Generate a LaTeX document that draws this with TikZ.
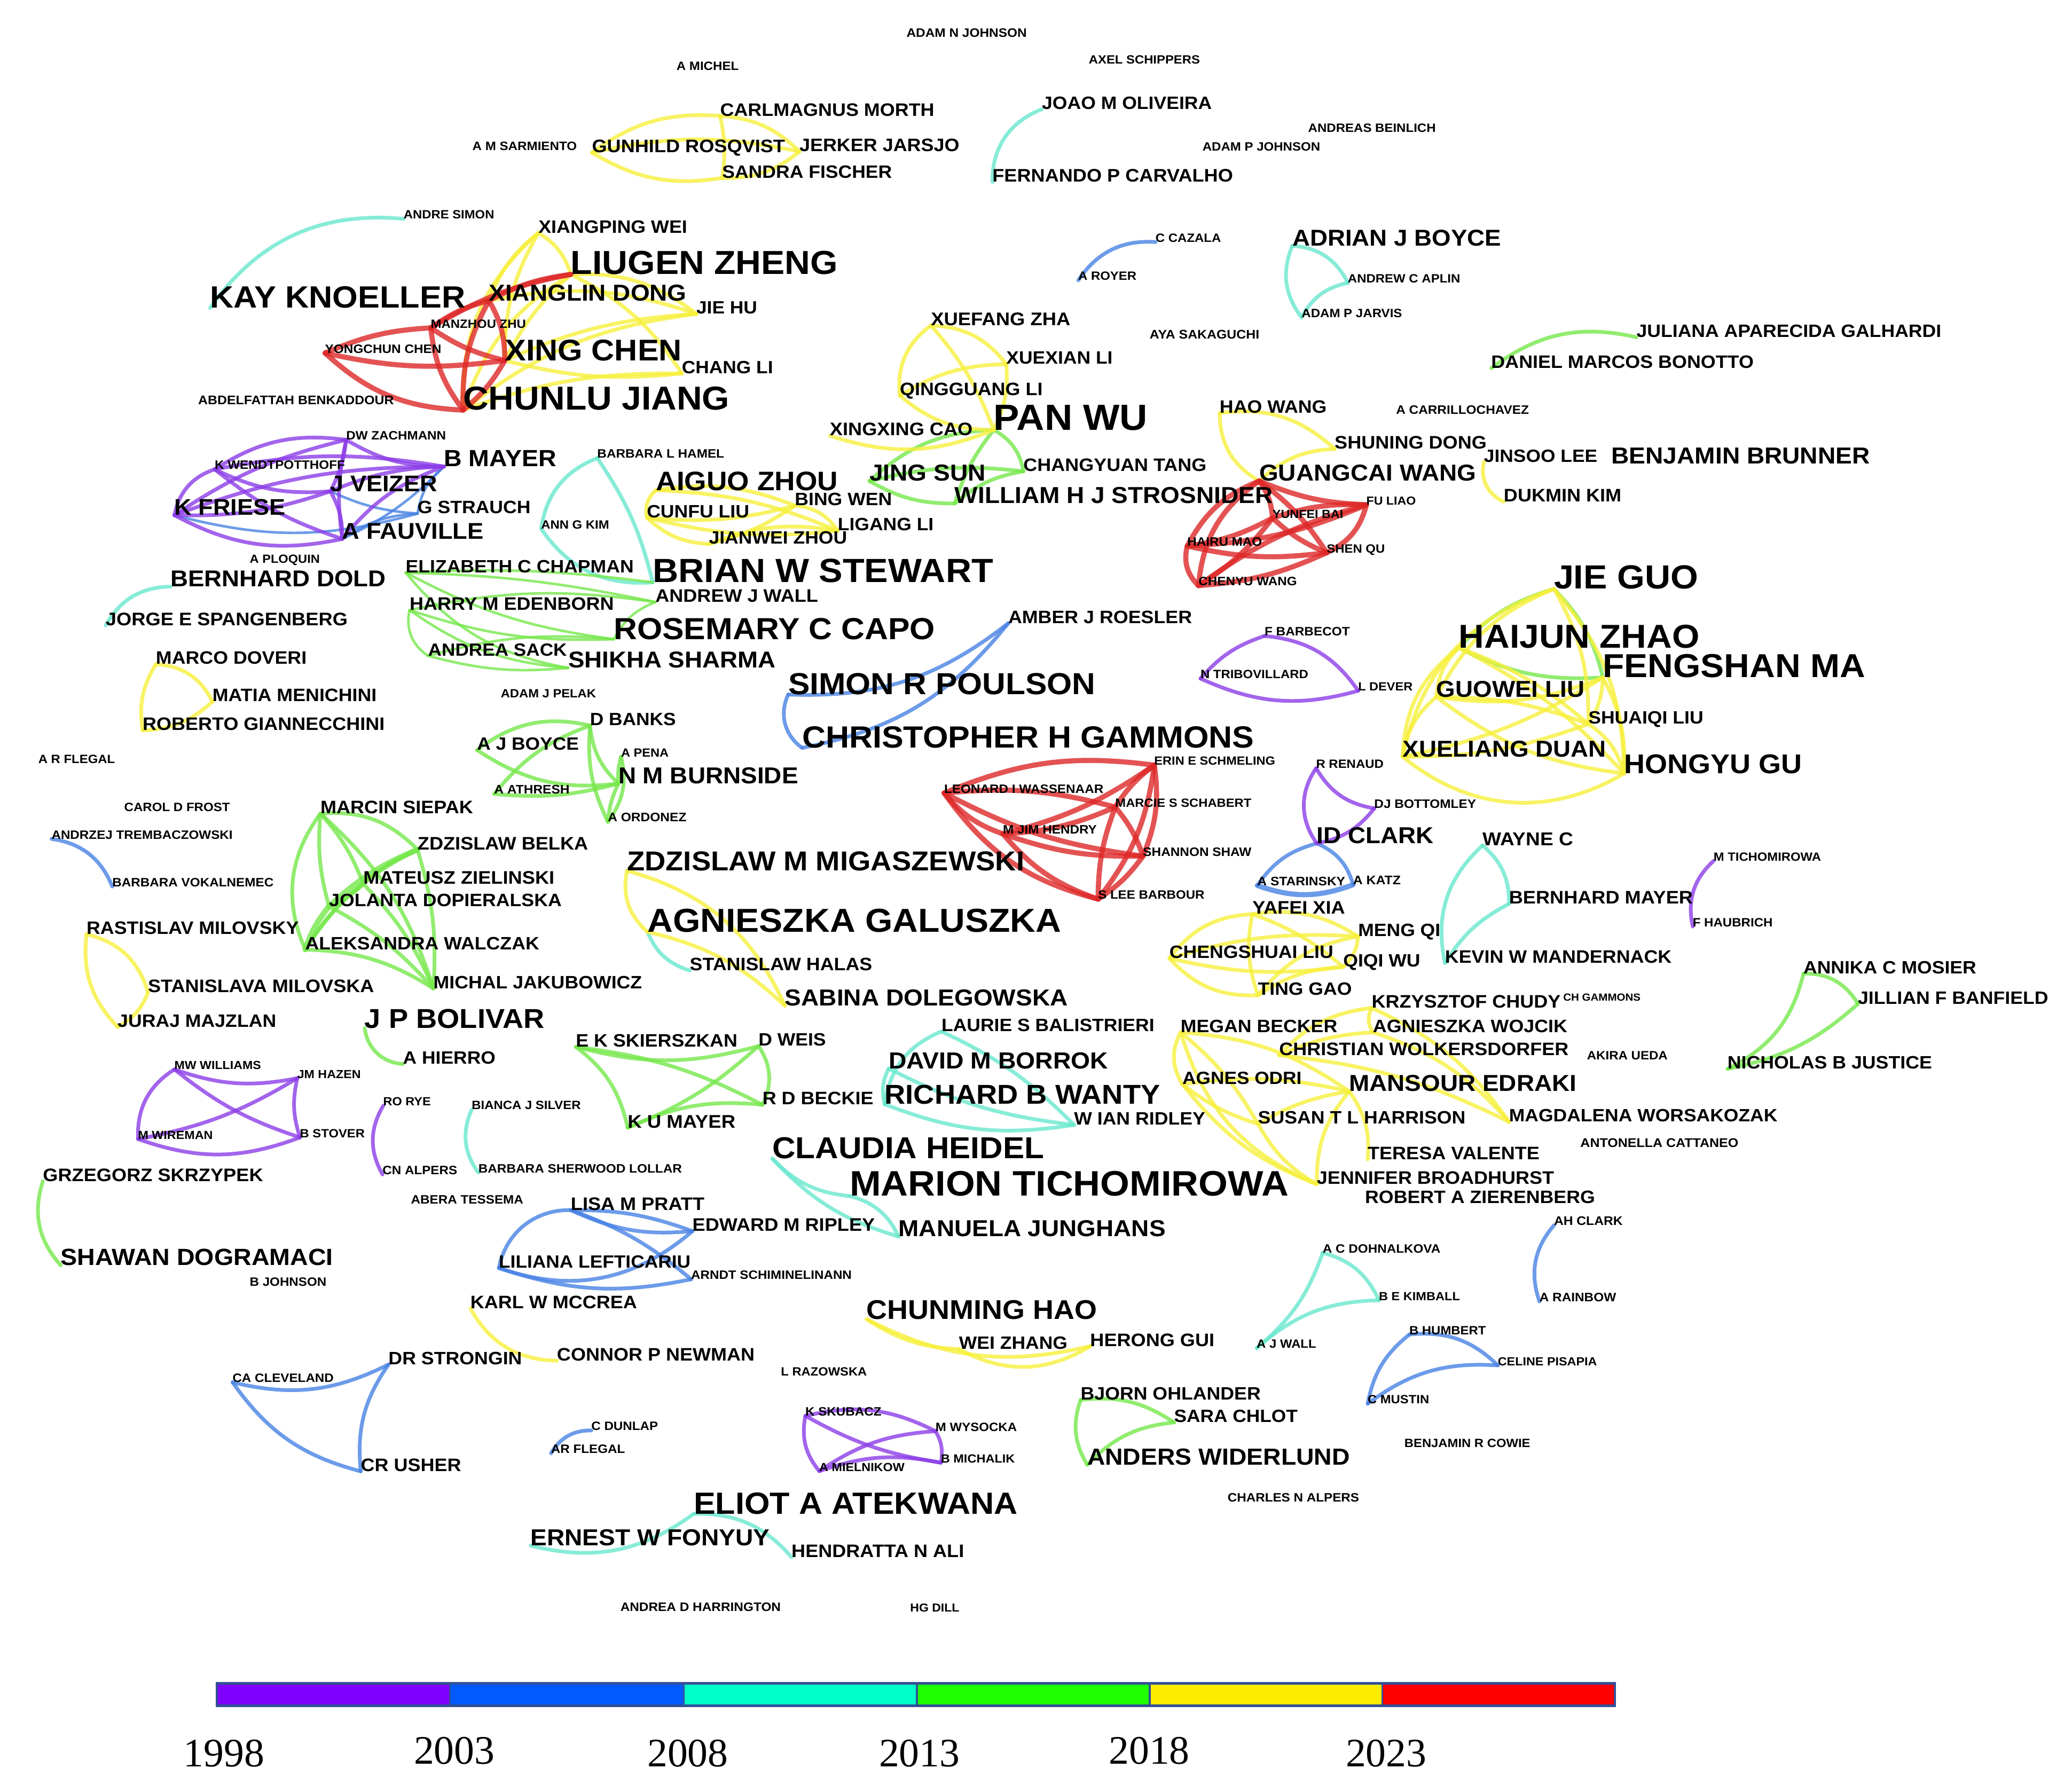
\documentclass[tikz,border=0pt]{standalone}
\usepackage{fontspec}
\setmainfont{Liberation Sans}
\newfontfamily\yearfont{Liberation Serif}
\usepackage{graphicx}
\pgfdeclarelayer{bg}
\pgfsetlayers{bg,main}
\definecolor{cP}{RGB}{140,62,232}
\definecolor{cB}{RGB}{72,130,228}
\definecolor{cT}{RGB}{105,232,205}
\definecolor{cG}{RGB}{118,232,75}
\definecolor{cY}{RGB}{247,240,60}
\definecolor{cR}{RGB}{222,40,40}
\definecolor{bP}{RGB}{127,0,255}
\definecolor{bB}{RGB}{0,90,255}
\definecolor{bT}{RGB}{0,255,200}
\definecolor{bG}{RGB}{30,255,0}
\definecolor{bY}{RGB}{255,235,0}
\definecolor{bR}{RGB}{255,0,0}
\definecolor{bE}{RGB}{50,80,150}
\newlength\labw
\newcommand\au[5]{%
  \pgfmathsetlength{\labw}{(#4-(#2))*0.2845276pt}%
  \node[aul] (#1) at (#2,#3) {\resizebox{\labw}{!}{\scalebox{1}[0.94]{#5}}};}
\newcommand\ed[4][cY]{\draw[lnk,#1] (#2.base west) to[bend left=#4] (#3.base west);}
\begin{document}
\begin{tikzpicture}[x=0.01cm,y=-0.01cm,
  aul/.style={anchor=west,inner sep=0pt,outer sep=0pt,font=\bfseries},
  lnk/.style={line width=0.8pt,draw opacity=0.8,line cap=round},
  rd/.style={draw=cR,line width=1.1pt},
  thn/.style={line width=0.55pt},
  yr/.style={inner sep=0pt,font=\yearfont\fontsize{8.7}{10}\selectfont}]
\begin{pgfonlayer}{bg}
\fill[white] (0,0) rectangle (1568,1356);
\end{pgfonlayer}
\useasboundingbox (0,0) rectangle (1568,1356);
% ---------------- labels: top ----------------
\au{adamn}{686}{25}{777}{ADAM N JOHNSON}
\au{amichel}{512}{50}{559}{A MICHEL}
\au{axel}{824}{45}{908}{AXEL SCHIPPERS}
\au{carl}{545}{83}{707}{CARLMAGNUS MORTH}
\au{joao}{788.5}{78}{917}{JOAO M OLIVEIRA}
\au{beinlich}{990}{97}{1086.5}{ANDREAS BEINLICH}
\au{sarm}{357.5}{110.6}{436.5}{A M SARMIENTO}
\au{gunhild}{448}{112}{594}{GUNHILD ROSQVIST}
\au{jerker}{605}{110}{726}{JERKER JARSJO}
\au{sandra}{546.5}{130}{675}{SANDRA FISCHER}
\au{adamp}{910}{111}{999}{ADAM P JOHNSON}
\au{fernando}{751}{133}{933}{FERNANDO P CARVALHO}
\au{andre}{305.5}{162.5}{374}{ANDRE SIMON}
\au{cazala}{874.5}{180}{924}{C CAZALA}
\au{royer}{816}{209}{860}{A ROYER}
\au{adrian}{978}{180}{1136}{ADRIAN J BOYCE}
\au{aplin}{1020}{211}{1105}{ANDREW C APLIN}
\au{jarvis}{985}{237}{1061}{ADAM P JARVIS}
\au{aya}{870}{253}{953}{AYA SAKAGUCHI}
\au{xiangping}{407.5}{171.5}{520}{XIANGPING WEI}
\au{liugen}{432}{199}{634}{LIUGEN ZHENG}
\au{kay}{159}{225}{352}{KAY KNOELLER}
\au{xianglin}{370}{221.5}{519.5}{XIANGLIN DONG}
\au{jiehu}{527}{233}{573}{JIE HU}
\au{manzhou}{326}{245}{398}{MANZHOU ZHU}
\au{yongchun}{246}{264}{334}{YONGCHUN CHEN}
\au{xingchen}{382}{265}{516}{XING CHEN}
\au{changli}{516}{278}{585}{CHANG LI}
\au{chunlu}{350.5}{301.7}{552}{CHUNLU JIANG}
\au{abdel}{150}{303}{298}{ABDELFATTAH BENKADDOUR}
\au{zachmann}{262}{329.7}{337.5}{DW ZACHMANN}
\au{bmayer}{336}{347}{421}{B MAYER}
\au{wendt}{162.5}{352}{261}{K WENDTPOTTHOFF}
\au{veizer}{250}{366}{331}{J VEIZER}
\au{friese}{132}{384}{216}{K FRIESE}
\au{strauch}{316}{384}{401.5}{G STRAUCH}
\au{fauville}{259}{402}{366}{A FAUVILLE}
\au{ploquin}{189}{424}{242}{A PLOQUIN}
\au{bdold}{129}{438}{292}{BERNHARD DOLD}
\au{eliz}{307}{428.7}{479.5}{ELIZABETH C CHAPMAN}
\au{hamel}{452}{343.5}{548}{BARBARA L HAMEL}
\au{annkim}{409.5}{397}{461}{ANN G KIM}
\au{aiguo}{496.5}{364}{634}{AIGUO ZHOU}
\au{bingwen}{601.5}{378}{675}{BING WEN}
\au{cunfu}{489.5}{387}{567}{CUNFU LIU}
\au{ligang}{634}{397}{706.5}{LIGANG LI}
\au{jianwei}{536.5}{407}{641}{JIANWEI ZHOU}
\au{brian}{494}{432}{751.5}{BRIAN W STEWART}
\au{xuefang}{704.5}{241.6}{810}{XUEFANG ZHA}
\au{xuexian}{761.5}{271}{842}{XUEXIAN LI}
\au{qingguang}{681}{296}{789}{QINGGUANG LI}
\au{xingxing}{628}{325}{736}{XINGXING CAO}
\au{panwu}{752}{316}{868.5}{PAN WU}
\au{jingsun}{658}{358}{746}{JING SUN}
\au{changyuan}{774.5}{352}{913}{CHANGYUAN TANG}
\au{william}{722.5}{375}{963}{WILLIAM H J STROSNIDER}
\au{haowang}{923}{308}{1004}{HAO WANG}
\au{carrillo}{1056.5}{310}{1157}{A CARRILLOCHAVEZ}
\au{shuning}{1010}{335}{1125}{SHUNING DONG}
\au{guangcai}{953}{358}{1117}{GUANGCAI WANG}
\au{jinsoo}{1123}{345}{1208.8}{JINSOO LEE}
\au{brunner}{1219.5}{345}{1415}{BENJAMIN BRUNNER}
\au{dukmin}{1138}{375}{1227}{DUKMIN KIM}
\au{fuliao}{1034}{379}{1071.5}{FU LIAO}
\au{yunfei}{963}{389}{1016.5}{YUNFEI BAI}
\au{hairu}{898.5}{410}{955}{HAIRU MAO}
\au{shenqu}{1004}{416}{1048}{SHEN QU}
\au{chenyu}{907}{440}{981.5}{CHENYU WANG}
\au{juliana}{1238.5}{250.6}{1469}{JULIANA APARECIDA GALHARDI}
\au{daniel}{1128.5}{274}{1327}{DANIEL MARCOS BONOTTO}
\au{jieguo}{1176}{437}{1285}{JIE GUO}
% ---------------- labels: middle ----------------
\au{andrew}{496}{451}{619}{ANDREW J WALL}
\au{harry}{310}{457}{464.5}{HARRY M EDENBORN}
\au{rosemary}{464.5}{475.8}{707.5}{ROSEMARY C CAPO}
\au{andrea}{324}{491.7}{429}{ANDREA SACK}
\au{shikha}{430}{499.5}{587}{SHIKHA SHARMA}
\au{pelak}{379}{524.9}{451}{ADAM J PELAK}
\au{dbanks}{446.5}{544.5}{511.5}{D BANKS}
\au{ajboyce}{361}{563}{438}{A J BOYCE}
\au{apena}{470}{569.6}{506}{A PENA}
\au{burnside}{468}{587}{604}{N M BURNSIDE}
\au{athresh}{374}{597.6}{431}{A ATHRESH}
\au{ordonez}{460}{618.7}{519.5}{A ORDONEZ}
\au{simon}{596.5}{517.7}{829}{SIMON R POULSON}
\au{chris}{607}{558}{949}{CHRISTOPHER H GAMMONS}
\au{amber}{763}{467}{902}{AMBER J ROESLER}
\au{zdz}{474.5}{651.9}{775}{ZDZISLAW M MIGASZEWSKI}
\au{agn}{490}{696.6}{803}{AGNIESZKA GALUSZKA}
\au{halas}{522}{729.8}{660}{STANISLAW HALAS}
\au{sabina}{594}{755.2}{808}{SABINA DOLEGOWSKA}
\au{laurie}{712.5}{776}{873.5}{LAURIE S BALISTRIERI}
\au{ek}{435.8}{787.6}{558}{E K SKIERSZKAN}
\au{dweis}{574}{787}{625}{D WEIS}
\au{david}{672.5}{802.6}{838.5}{DAVID M BORROK}
\au{beckie}{577}{831.4}{661}{R D BECKIE}
\au{richard}{669.5}{828.6}{877.8}{RICHARD B WANTY}
\au{kumayer}{475}{848.8}{556.5}{K U MAYER}
\au{ridley}{812.8}{846.7}{912}{W IAN RIDLEY}
\au{claudia}{584.5}{869}{790}{CLAUDIA HEIDEL}
\au{marion}{643}{896}{975}{MARION TICHOMIROWA}
\au{jorge}{80}{468.6}{263}{JORGE E SPANGENBERG}
\au{marco}{118}{498}{232}{MARCO DOVERI}
\au{matia}{160.8}{526.3}{285}{MATIA MENICHINI}
\au{roberto}{108}{548}{291}{ROBERTO GIANNECCHINI}
\au{arflegala}{29}{574.5}{87}{A R FLEGAL}
\au{frost}{94}{611}{174}{CAROL D FROST}
\au{andrzej}{39}{631.7}{176}{ANDRZEJ TREMBACZOWSKI}
\au{vokal}{85}{667.8}{207}{BARBARA VOKALNEMEC}
\au{marcin}{242.5}{611}{358}{MARCIN SIEPAK}
\au{belka}{316}{638.3}{445}{ZDZISLAW BELKA}
\au{mateusz}{275}{664.3}{419.5}{MATEUSZ ZIELINSKI}
\au{jolanta}{249}{681.3}{425}{JOLANTA DOPIERALSKA}
\au{ras}{65.5}{702.4}{226}{RASTISLAV MILOVSKY}
\au{aleks}{231}{714}{408}{ALEKSANDRA WALCZAK}
\au{stan}{112}{746.3}{283}{STANISLAVA MILOVSKA}
\au{michal}{328}{743.4}{485.8}{MICHAL JAKUBOWICZ}
\au{juraj}{89}{772.6}{209}{JURAJ MAJZLAN}
\au{bolivar}{276}{771}{412}{J P BOLIVAR}
\au{hierro}{305}{800.6}{375}{A HIERRO}
\au{mww}{132}{806.3}{197.5}{MW WILLIAMS}
\au{hazen}{225}{813}{273}{JM HAZEN}
\au{rorye}{290}{833.8}{326}{RO RYE}
\au{bianca}{357}{836.6}{439.5}{BIANCA J SILVER}
\au{wireman}{104.5}{859}{161}{M WIREMAN}
\au{stover}{227}{857.7}{276}{B STOVER}
\au{cnalpers}{289.5}{885.7}{346}{CN ALPERS}
\au{sherwood}{362}{884.3}{516}{BARBARA SHERWOOD LOLLAR}
\au{grzegorz}{32.5}{889.2}{199}{GRZEGORZ SKRZYPEK}
\au{barbecot}{957}{478.1}{1021.5}{F BARBECOT}
\au{tribo}{908.5}{510.4}{990}{N TRIBOVILLARD}
\au{dever}{1027.8}{519.7}{1069}{L DEVER}
\au{erin}{873.5}{576}{965}{ERIN E SCHMELING}
\au{leonard}{714.5}{597}{835}{LEONARD I WASSENAAR}
\au{marcie}{844}{607.7}{947}{MARCIE S SCHABERT}
\au{hendry}{759}{628}{830}{M JIM HENDRY}
\au{shannon}{865}{644.7}{947}{SHANNON SHAW}
\au{barbour}{831}{677.3}{911.5}{S LEE BARBOUR}
\au{renaud}{996}{578.3}{1047}{R RENAUD}
\au{bottomley}{1040}{608.6}{1117}{DJ BOTTOMLEY}
\au{idclark}{996.5}{632.3}{1085}{ID CLARK}
\au{starinsky}{951.5}{666.9}{1018}{A STARINSKY}
\au{katz}{1024}{666.3}{1060}{A KATZ}
\au{yafei}{947.8}{687.1}{1017.8}{YAFEI XIA}
\au{mengqi}{1027.8}{705.3}{1090}{MENG QI}
\au{chengshuai}{885}{720.6}{1009}{CHENGSHUAI LIU}
\au{qiqi}{1016.5}{728.4}{1074.8}{QIQI WU}
\au{tinggao}{952}{748.6}{1023}{TING GAO}
\au{wayne}{1122}{635}{1190.5}{WAYNE C}
\au{bmayerb}{1142}{679.3}{1281}{BERNHARD MAYER}
\au{kevin}{1093.5}{724.1}{1265}{KEVIN W MANDERNACK}
\au{chudy}{1038}{758.1}{1181}{KRZYSZTOF CHUDY}
\au{wojcik}{1039}{776.6}{1186}{AGNIESZKA WOJCIK}
\au{christian}{968}{793.9}{1187}{CHRISTIAN WOLKERSDORFER}
\au{megan}{893.5}{776.6}{1012}{MEGAN BECKER}
\au{agnes}{894.8}{815.9}{985}{AGNES ODRI}
\au{mansour}{1021}{819.9}{1193}{MANSOUR EDRAKI}
\au{susan}{952}{845.9}{1109}{SUSAN T L HARRISON}
\au{magda}{1142}{844.4}{1345}{MAGDALENA WORSAKOZAK}
\au{teresa}{1035}{872.7}{1165}{TERESA VALENTE}
\au{jennifer}{996.5}{891.5}{1176}{JENNIFER BROADHURST}
\au{robert}{1033}{906}{1207}{ROBERT A ZIERENBERG}
\au{hgammons}{1183}{755}{1241.5}{CH GAMMONS}
\au{ueda}{1201}{799}{1262}{AKIRA UEDA}
\au{cattaneo}{1196}{865}{1315.5}{ANTONELLA CATTANEO}
\au{mtich}{1296.8}{648.4}{1378}{M TICHOMIROWA}
\au{haubrich}{1281}{698.1}{1341.5}{F HAUBRICH}
\au{annika}{1364.8}{732.1}{1495.5}{ANNIKA C MOSIER}
\au{jillian}{1406}{755.2}{1550}{JILLIAN F BANFIELD}
\au{nicholas}{1307.3}{804.3}{1462}{NICHOLAS B JUSTICE}
\au{haijun}{1104}{481.6}{1286}{HAIJUN ZHAO}
\au{fengshan}{1213}{504.1}{1411.5}{FENGSHAN MA}
\au{guowei}{1087}{521.4}{1199}{GUOWEI LIU}
\au{shuaiqi}{1202}{544.5}{1289}{SHUAIQI LIU}
\au{xueliang}{1061.5}{566.7}{1215.5}{XUELIANG DUAN}
\au{hongyu}{1229}{578.3}{1363.5}{HONGYU GU}
% ---------------- labels: bottom ----------------
\au{abera}{311}{908}{396}{ABERA TESSEMA}
\au{shawan}{46}{951.5}{252}{SHAWAN DOGRAMACI}
\au{bjohnson}{189}{970.3}{247}{B JOHNSON}
\au{cleveland}{176}{1043}{252.5}{CA CLEVELAND}
\au{strongin}{294}{1028}{395}{DR STRONGIN}
\au{usher}{273}{1108.8}{349}{CR USHER}
\au{lisa}{432}{911.1}{533}{LISA M PRATT}
\au{edward}{524}{927}{662}{EDWARD M RIPLEY}
\au{liliana}{377.5}{955}{522.5}{LILIANA LEFTICARIU}
\au{arndt}{523}{965}{644.5}{ARNDT SCHIMINELINANN}
\au{karl}{356}{985.5}{482}{KARL W MCCREA}
\au{connor}{421.5}{1025.1}{571}{CONNOR P NEWMAN}
\au{razowska}{591}{1038}{656}{L RAZOWSKA}
\au{dunlap}{447.5}{1079.4}{498}{C DUNLAP}
\au{arflegal}{417}{1096.7}{473}{AR FLEGAL}
\au{skubacz}{609.5}{1068.4}{667}{K SKUBACZ}
\au{wysocka}{708}{1080}{769.5}{M WYSOCKA}
\au{michalik}{712}{1103.9}{768}{B MICHALIK}
\au{mielnikow}{620}{1110.3}{684.5}{A MIELNIKOW}
\au{eliot}{525}{1137.7}{770}{ELIOT A ATEKWANA}
\au{ernest}{401.5}{1163.7}{582.5}{ERNEST W FONYUY}
\au{hendratta}{599}{1173.8}{729.5}{HENDRATTA N ALI}
\au{harrington}{469.5}{1216.2}{590.8}{ANDREA D HARRINGTON}
\au{hgdill}{688.8}{1217}{726}{HG DILL}
\au{manuela}{680}{929.8}{882}{MANUELA JUNGHANS}
\au{chunming}{655.8}{991.3}{830}{CHUNMING HAO}
\au{weizhang}{725.8}{1016.4}{807.8}{WEI ZHANG}
\au{herong}{825}{1014.1}{919}{HERONG GUI}
\au{dohn}{1001}{944.9}{1090}{A C DOHNALKOVA}
\au{kimball}{1043.5}{981}{1104.8}{B E KIMBALL}
\au{ajwall}{951}{1017.3}{996}{A J WALL}
\au{humbert}{1066.5}{1006.9}{1124.5}{B HUMBERT}
\au{celine}{1133.5}{1030.3}{1208.5}{CELINE PISAPIA}
\au{mustin}{1035}{1059.2}{1081.5}{C MUSTIN}
\au{cowie}{1062.8}{1092.1}{1158}{BENJAMIN R COWIE}
\au{bjorn}{817.8}{1054.8}{954}{BJORN OHLANDER}
\au{sara}{888.5}{1071.9}{982}{SARA CHLOT}
\au{anders}{822.8}{1102.5}{1021.5}{ANDERS WIDERLUND}
\au{alpers}{929}{1133.4}{1028.5}{CHARLES N ALPERS}
\au{ahclark}{1176}{924.1}{1228}{AH CLARK}
\au{rainbow}{1165}{981.8}{1223}{A RAINBOW}
% ---------------- edges ----------------
\begin{pgfonlayer}{bg}
% teal
\ed[cT]{andre}{kay}{-30}
\ed[cT]{joao}{fernando}{-35}
\ed[cT]{adrian}{aplin}{30}
\ed[cT]{adrian}{jarvis}{-30}
\ed[cT]{jarvis}{aplin}{25}
\ed[cT]{hamel}{annkim}{-30}
\ed[cT]{annkim}{brian}{-30}
\ed[cT]{hamel}{brian}{10}
\ed[cT]{bdold}{jorge}{-30}
\ed[cT]{agn}{halas}{-25}
\ed[cT]{laurie}{richard}{-30}
\ed[cT]{david}{ridley}{-10}
\ed[cT]{richard}{ridley}{-15}
\ed[cT]{laurie}{ridley}{10}
\ed[cT]{david}{richard}{-20}
\ed[cT]{claudia}{marion}{-20}
\ed[cT]{marion}{manuela}{25}
\ed[cT]{claudia}{manuela}{-15}
\ed[cT]{wayne}{kevin}{-30}
\ed[cT]{wayne}{bmayerb}{25}
\ed[cT]{kevin}{bmayerb}{15}
\ed[cT]{bianca}{sherwood}{-30}
\ed[cT]{dohn}{kimball}{25}
\ed[cT]{dohn}{ajwall}{15}
\ed[cT]{kimball}{ajwall}{-20}
\ed[cT]{ernest}{eliot}{-25}
\ed[cT]{eliot}{hendratta}{25}
% blue
\ed[cB]{cazala}{royer}{-30}
\ed[cB,thn]{friese}{strauch}{-15}
\ed[cB,thn]{veizer}{strauch}{-10}
\ed[cB,thn]{fauville}{strauch}{15}
\ed[cB,thn]{bmayer}{fauville}{10}
\ed[cB,thn]{bmayer}{strauch}{-20}
\ed[cB]{simon}{chris}{-40}
\ed[cB]{simon}{amber}{-20}
\ed[cB]{chris}{amber}{-20}
\ed[cB]{andrzej}{vokal}{30}
\ed[cB]{idclark}{starinsky}{-20}
\ed[cB]{idclark}{katz}{25}
\ed[cB,line width=1.1pt]{starinsky}{katz}{-20}
\ed[cB]{cleveland}{strongin}{-20}
\ed[cB]{cleveland}{usher}{-20}
\ed[cB]{strongin}{usher}{-20}
\ed[cB]{lisa}{edward}{-15}
\ed[cB]{lisa}{edward}{10}
\ed[cB]{lisa}{liliana}{-40}
\ed[cB]{liliana}{edward}{-30}
\ed[cB]{liliana}{arndt}{-15}
\ed[cB]{lisa}{arndt}{10}
\ed[cB]{dunlap}{arflegal}{-30}
\ed[cB]{humbert}{celine}{25}
\ed[cB]{humbert}{mustin}{-20}
\ed[cB]{mustin}{celine}{20}
\ed[cB]{ahclark}{rainbow}{-30}
% purple
\ed[cP]{wendt}{zachmann}{20}
\ed[cP]{zachmann}{bmayer}{-15}
\ed[cP]{friese}{wendt}{30}
\ed[cP]{friese}{fauville}{-20}
\ed[cP]{friese}{zachmann}{10}
\ed[cP]{friese}{veizer}{-10}
\ed[cP]{friese}{bmayer}{10}
\ed[cP]{wendt}{veizer}{-15}
\ed[cP]{wendt}{fauville}{-10}
\ed[cP]{wendt}{bmayer}{10}
\ed[cP]{zachmann}{veizer}{10}
\ed[cP]{zachmann}{fauville}{-10}
\ed[cP]{veizer}{bmayer}{10}
\ed[cP]{veizer}{fauville}{15}
\ed[cP]{fauville}{bmayer}{15}
\ed[cP]{mww}{hazen}{-15}
\ed[cP]{mww}{wireman}{-30}
\ed[cP]{wireman}{stover}{-20}
\ed[cP]{hazen}{stover}{-15}
\ed[cP]{mww}{stover}{-10}
\ed[cP]{wireman}{hazen}{-10}
\ed[cP]{rorye}{cnalpers}{-30}
\ed[cP]{tribo}{barbecot}{15}
\ed[cP]{barbecot}{dever}{25}
\ed[cP]{tribo}{dever}{-20}
\ed[cP]{renaud}{bottomley}{-25}
\ed[cP]{renaud}{idclark}{-35}
\ed[cP]{idclark}{bottomley}{-20}
\ed[cP]{mtich}{haubrich}{-30}
\ed[cP]{skubacz}{wysocka}{20}
\ed[cP]{skubacz}{mielnikow}{-25}
\ed[cP]{mielnikow}{michalik}{15}
\ed[cP]{wysocka}{michalik}{20}
\ed[cP]{skubacz}{michalik}{-10}
\ed[cP]{mielnikow}{wysocka}{15}
% green
\ed[cG]{marcin}{belka}{25}
\ed[cG]{marcin}{mateusz}{10}
\ed[cG]{marcin}{jolanta}{-10}
\ed[cG]{marcin}{aleks}{-30}
\ed[cG]{marcin}{michal}{15}
\ed[cG]{belka}{mateusz}{-10}
\ed[cG,line width=1.2pt]{belka}{jolanta}{-10}
\ed[cG]{belka}{aleks}{-15}
\ed[cG]{belka}{michal}{10}
\ed[cG]{mateusz}{jolanta}{10}
\ed[cG]{mateusz}{aleks}{-10}
\ed[cG]{mateusz}{michal}{10}
\ed[cG,line width=1.2pt]{jolanta}{aleks}{-10}
\ed[cG]{jolanta}{michal}{10}
\ed[cG]{aleks}{michal}{15}
\ed[cG]{bolivar}{hierro}{-40}
\ed[cG]{grzegorz}{shawan}{-30}
\ed[cG]{jieguo}{haijun}{-15}
\ed[cG]{jieguo}{fengshan}{15}
\ed[cG]{haijun}{fengshan}{-15}
\ed[cG]{ajboyce}{dbanks}{25}
\ed[cG]{ajboyce}{burnside}{-20}
\ed[cG]{dbanks}{burnside}{-20}
\ed[cG]{athresh}{burnside}{-10}
\ed[cG]{burnside}{apena}{10}
\ed[cG]{burnside}{ordonez}{-10}
\ed[cG]{apena}{ordonez}{25}
\ed[cG]{dbanks}{ordonez}{-15}
\ed[cG]{athresh}{dbanks}{15}
\ed[cG]{ek}{dweis}{-15}
\ed[cG]{ek}{beckie}{10}
\ed[cG]{ek}{kumayer}{20}
\ed[cG]{dweis}{beckie}{30}
\ed[cG]{dweis}{kumayer}{10}
\ed[cG]{kumayer}{beckie}{15}
\ed[cG,thn]{eliz}{rosemary}{-10}
\ed[cG,thn]{eliz}{andrew}{5}
\ed[cG,thn]{harry}{rosemary}{-10}
\ed[cG,thn]{harry}{shikha}{-15}
\ed[cG,thn]{harry}{andrew}{10}
\ed[cG,thn]{harry}{andrea}{-35}
\ed[cG,thn]{andrea}{rosemary}{10}
\ed[cG,thn]{andrea}{shikha}{-10}
\ed[cG,thn]{eliz}{shikha}{-20}
\ed[cG,thn]{eliz}{brian}{5}
\ed[cG,thn]{andrew}{rosemary}{-20}
\ed[cG]{panwu}{jingsun}{-20}
\ed[cG]{panwu}{william}{-10}
\ed[cG]{panwu}{changyuan}{25}
\ed[cG]{jingsun}{changyuan}{10}
\ed[cG]{jingsun}{william}{-15}
\ed[cG]{william}{changyuan}{15}
\ed[cG]{annika}{jillian}{30}
\ed[cG]{annika}{nicholas}{25}
\ed[cG]{jillian}{nicholas}{15}
\ed[cG]{daniel}{juliana}{25}
\ed[cG]{bjorn}{sara}{20}
\ed[cG]{bjorn}{anders}{-25}
\ed[cG]{anders}{sara}{20}
% yellow
\ed{gunhild}{carl}{20}
\ed{carl}{jerker}{20}
\ed{gunhild}{jerker}{12}
\ed{gunhild}{sandra}{-20}
\ed{sandra}{jerker}{-20}
\ed{carl}{sandra}{10}
\ed{haowang}{shuning}{25}
\ed{haowang}{guangcai}{-30}
\ed{guangcai}{shuning}{20}
\ed{jinsoo}{dukmin}{-40}
\ed{xiangping}{liugen}{20}
\ed{xiangping}{xingchen}{-15}
\ed{xiangping}{chunlu}{-25}
\ed{xiangping}{xianglin}{-15}
\ed{liugen}{jiehu}{20}
\ed{liugen}{changli}{15}
\ed{xianglin}{jiehu}{15}
\ed{xingchen}{jiehu}{10}
\ed{xingchen}{changli}{-10}
\ed{chunlu}{changli}{10}
\ed{chunlu}{jiehu}{15}
\ed{liugen}{xingchen}{-10}
\ed{liugen}{chunlu}{-20}
\ed{xuefang}{xuexian}{25}
\ed{xuefang}{qingguang}{-30}
\ed{xuefang}{panwu}{10}
\ed{xuexian}{qingguang}{-15}
\ed{xuexian}{panwu}{15}
\ed{qingguang}{panwu}{-20}
\ed{xingxing}{panwu}{-20}
\ed{aiguo}{bingwen}{15}
\ed{aiguo}{ligang}{10}
\ed{cunfu}{bingwen}{-10}
\ed{cunfu}{ligang}{-10}
\ed{cunfu}{jianwei}{-20}
\ed{jianwei}{bingwen}{-10}
\ed{jianwei}{ligang}{15}
\ed{bingwen}{ligang}{25}
\ed{aiguo}{cunfu}{-30}
\ed{marco}{matia}{30}
\ed{marco}{roberto}{-20}
\ed{roberto}{matia}{-20}
\ed{ras}{stan}{30}
\ed{ras}{juraj}{-25}
\ed{juraj}{stan}{-20}
\ed{zdz}{agn}{-30}
\ed{zdz}{sabina}{25}
\ed{agn}{sabina}{15}
\ed{yafei}{mengqi}{20}
\ed{chengshuai}{yafei}{25}
\ed{chengshuai}{tinggao}{-25}
\ed{chengshuai}{mengqi}{10}
\ed{chengshuai}{qiqi}{-10}
\ed{yafei}{qiqi}{10}
\ed{yafei}{tinggao}{-15}
\ed{mengqi}{qiqi}{20}
\ed{tinggao}{qiqi}{15}
\ed{tinggao}{mengqi}{20}
\ed{megan}{agnes}{-30}
\ed{megan}{susan}{10}
\ed{megan}{jennifer}{-25}
\ed{megan}{mansour}{15}
\ed{agnes}{susan}{-10}
\ed{agnes}{jennifer}{-15}
\ed{agnes}{mansour}{10}
\ed{susan}{jennifer}{-15}
\ed{mansour}{jennifer}{-20}
\ed{mansour}{teresa}{20}
\ed{mansour}{susan}{-10}
\ed{chudy}{magda}{15}
\ed{wojcik}{magda}{15}
\ed{christian}{magda}{10}
\ed{christian}{chudy}{20}
\ed{christian}{wojcik}{10}
\ed{chudy}{wojcik}{-30}
\ed{jieguo}{guowei}{-20}
\ed{jieguo}{xueliang}{-30}
\ed{jieguo}{shuaiqi}{15}
\ed{jieguo}{hongyu}{20}
\ed{haijun}{guowei}{-20}
\ed{haijun}{xueliang}{-25}
\ed{haijun}{shuaiqi}{10}
\ed{haijun}{hongyu}{10}
\ed{fengshan}{guowei}{15}
\ed{fengshan}{xueliang}{10}
\ed{fengshan}{hongyu}{15}
\ed{fengshan}{shuaiqi}{15}
\ed{guowei}{shuaiqi}{10}
\ed{guowei}{xueliang}{-20}
\ed{guowei}{hongyu}{-15}
\ed{shuaiqi}{xueliang}{10}
\ed{shuaiqi}{hongyu}{20}
\ed{xueliang}{hongyu}{-35}
\ed{karl}{connor}{-30}
\ed{chunming}{weizhang}{-15}
\ed{weizhang}{herong}{-30}
\ed{chunming}{herong}{-20}
% red
\ed[rd]{guangcai}{yunfei}{15}
\ed[rd]{guangcai}{fuliao}{-10}
\ed[rd]{guangcai}{hairu}{-20}
\ed[rd]{guangcai}{shenqu}{10}
\ed[rd]{guangcai}{chenyu}{-25}
\ed[rd]{yunfei}{fuliao}{10}
\ed[rd]{yunfei}{hairu}{10}
\ed[rd]{yunfei}{shenqu}{-10}
\ed[rd]{yunfei}{chenyu}{10}
\ed[rd]{fuliao}{hairu}{10}
\ed[rd]{fuliao}{shenqu}{25}
\ed[rd]{fuliao}{chenyu}{-10}
\ed[rd]{hairu}{shenqu}{-10}
\ed[rd]{hairu}{chenyu}{-30}
\ed[rd]{shenqu}{chenyu}{10}
\ed[rd]{yongchun}{xingchen}{-10}
\ed[rd]{yongchun}{chunlu}{-20}
\ed[rd]{yongchun}{manzhou}{10}
\ed[rd]{manzhou}{xianglin}{10}
\ed[rd]{manzhou}{xingchen}{-10}
\ed[rd]{manzhou}{chunlu}{-15}
\ed[rd]{xianglin}{liugen}{10}
\ed[rd]{xianglin}{xingchen}{15}
\ed[rd]{xianglin}{chunlu}{-15}
\ed[rd]{xingchen}{chunlu}{10}
\ed[rd]{manzhou}{liugen}{10}
\ed[rd]{leonard}{erin}{15}
\ed[rd]{leonard}{marcie}{10}
\ed[rd]{leonard}{hendry}{-15}
\ed[rd]{leonard}{shannon}{-10}
\ed[rd]{leonard}{barbour}{-20}
\ed[rd]{erin}{marcie}{-10}
\ed[rd]{erin}{hendry}{10}
\ed[rd]{erin}{shannon}{15}
\ed[rd]{erin}{barbour}{15}
\ed[rd]{marcie}{hendry}{10}
\ed[rd]{marcie}{shannon}{10}
\ed[rd]{marcie}{barbour}{-10}
\ed[rd]{hendry}{shannon}{-10}
\ed[rd]{hendry}{barbour}{-15}
\ed[rd]{shannon}{barbour}{10}
\end{pgfonlayer}
% ---------------- colour bar ----------------
\fill[bP] (164,1274) rectangle (340.5,1291);
\fill[bB] (340.5,1274) rectangle (517.5,1291);
\fill[bT] (517.5,1274) rectangle (693.8,1291);
\fill[bG] (693.8,1274) rectangle (870,1291);
\fill[bY] (870,1274) rectangle (1046,1291);
\fill[bR] (1046,1274) rectangle (1222,1291);
\foreach \xx in {340.5,517.5,693.8,870,1046}
  \draw[bE,line width=0.4pt] (\xx,1274) -- (\xx,1291);
\draw[bE,line width=0.5pt] (164,1274) rectangle (1222,1291);
\node[yr] (y1998) at (169.5,1327) {1998};
\node[yr] (y2003) at (343.8,1325) {2003};
\node[yr] (y2008) at (520.5,1327) {2008};
\node[yr] (y2013) at (695.8,1327) {2013};
\node[yr] (y2018) at (869.7,1325) {2018};
\node[yr] (y2023) at (1049,1327) {2023};
\end{tikzpicture}
\end{document}
